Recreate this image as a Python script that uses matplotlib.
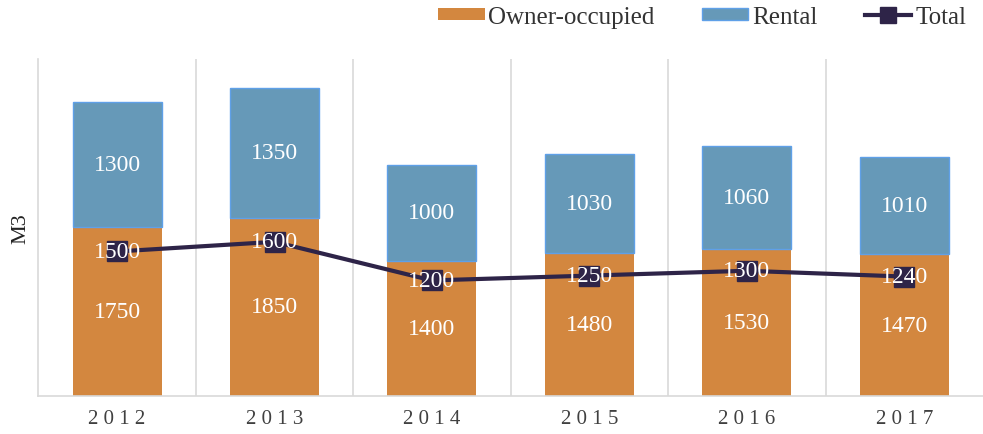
import matplotlib.pyplot as plt
import numpy as np

years = ["2012", "2013", "2014", "2015", "2016", "2017"]
owner = [1750, 1850, 1400, 1480, 1530, 1470]
rental = [1300, 1350, 1000, 1030, 1060, 1010]
total = [1500, 1600, 1200, 1250, 1300, 1240]

plt.rcParams['font.family'] = ['Liberation Serif', 'DejaVu Serif']

c_owner = '#D3873F'
c_rental = '#6699B8'
c_line = '#2E2448'

fig = plt.figure(figsize=(9.83, 4.35), dpi=100)
ax = fig.add_axes([0.039, 0.087, 0.961, 0.776])

x = np.arange(len(years))
w = 0.565
b1 = ax.bar(x, owner, w, color=c_owner, label='Owner-occupied', zorder=2)
b2 = ax.bar(x, rental, w, bottom=owner, color=c_rental, edgecolor='#5FA0E8',
            linewidth=1.0, label='Rental', zorder=2)
ln, = ax.plot(x, total, color=c_line, lw=3, marker='s', markersize=14,
              label='Total', zorder=3)

lab = dict(ha='center', va='center', color='white', fontsize=17, zorder=4)
for i in range(len(years)):
    ax.text(x[i], owner[i] / 2, str(owner[i]), **lab)
    ax.text(x[i], owner[i] + rental[i] / 2, str(rental[i]), **lab)
    ax.text(x[i], total[i], str(total[i]), **lab)

ax.set_xlim(-0.5, len(years) - 0.5)
ax.set_ylim(0, 3500)
ax.set_yticks([])
ax.set_xticks(x)
ax.set_xticklabels([" ".join(y) for y in years], fontsize=15, color='#404040')
ax.tick_params(axis='x', length=0, pad=9)
for b in np.arange(0.5, len(years) - 0.5, 1):
    ax.axvline(b, color='#D9D9D9', lw=1.2, zorder=1)
for s in ['top', 'right']:
    ax.spines[s].set_visible(False)
ax.spines['left'].set_color('#D9D9D9')
ax.spines['left'].set_linewidth(1.2)
ax.spines['bottom'].set_color('#D9D9D9')
ax.spines['bottom'].set_linewidth(1.2)
ax.set_ylabel('M3', fontsize=16, color='#222222', labelpad=6)

fig.legend([b1, b2, ln], ['Owner-occupied', 'Rental', 'Total'],
           loc='center right', bbox_to_anchor=(966 / 983, 1 - 18 / 435), ncol=3,
           frameon=False, fontsize=18, handlelength=1.85, handleheight=0.4,
           handletextpad=0.15, columnspacing=1.9, markerscale=0.85,
           borderaxespad=0, borderpad=0, labelcolor='#333333')

fig.savefig('out.png', dpi=100)
